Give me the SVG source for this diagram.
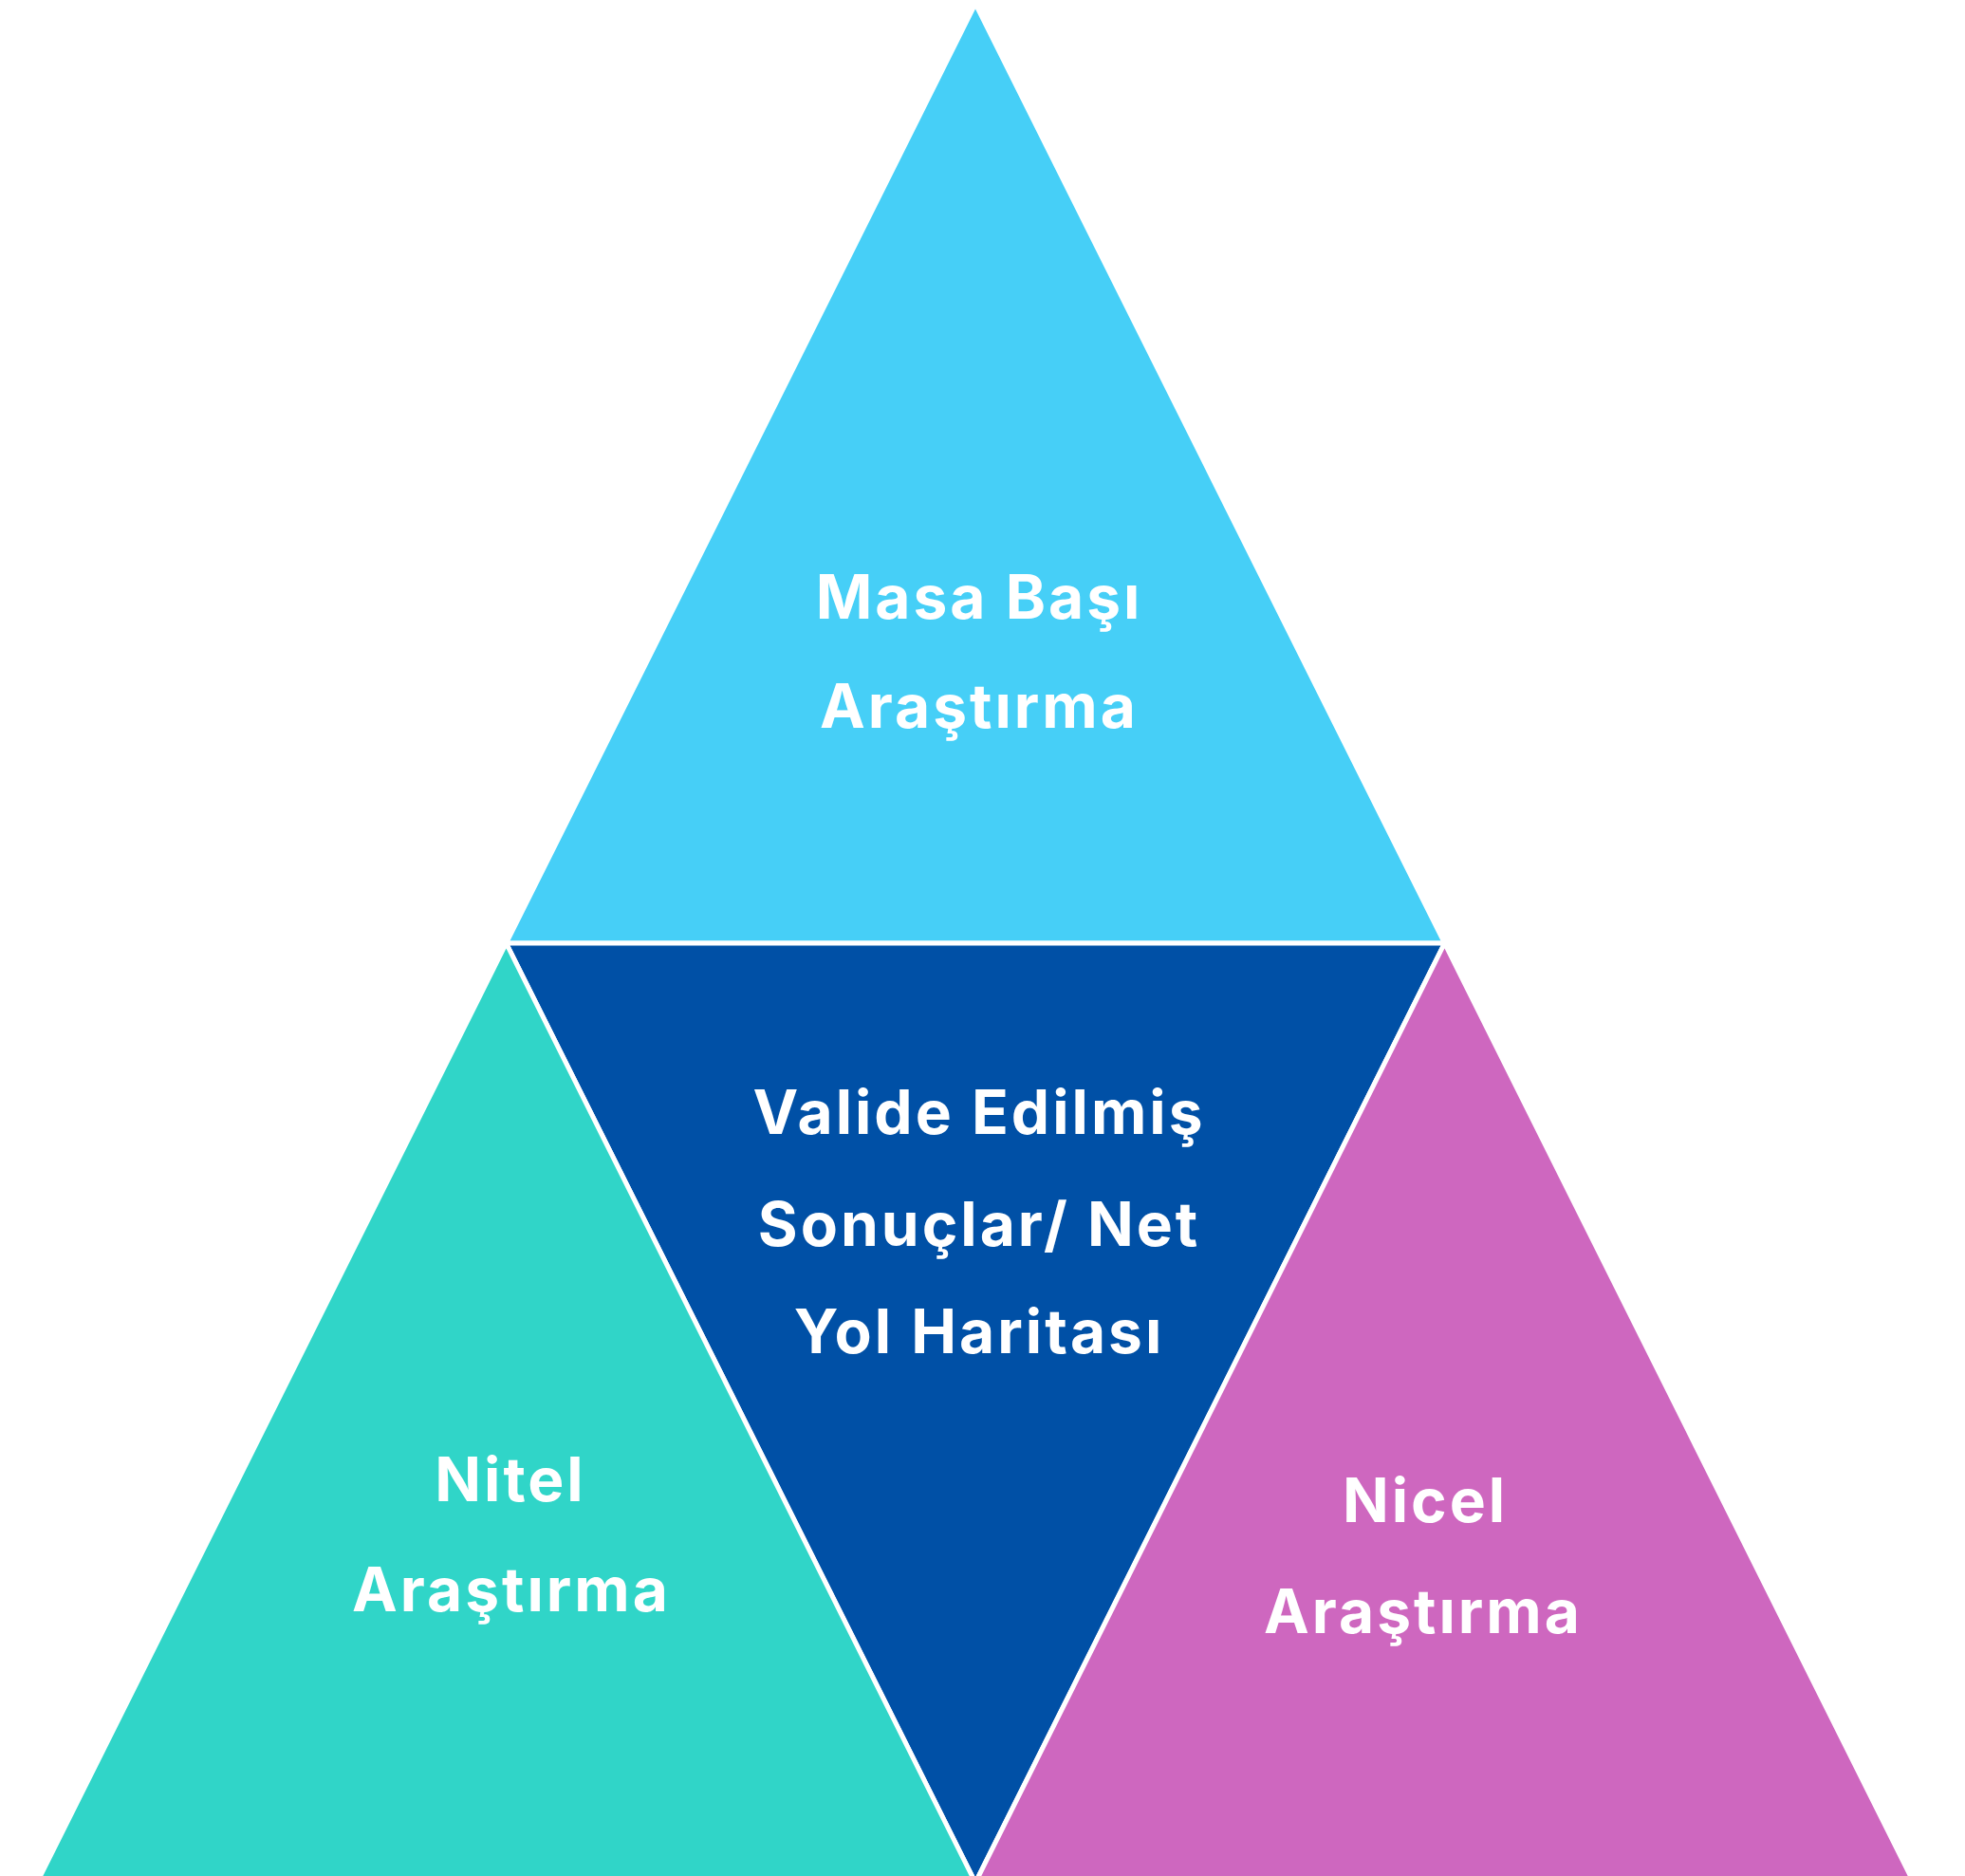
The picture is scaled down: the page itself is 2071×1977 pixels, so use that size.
<svg xmlns="http://www.w3.org/2000/svg" width="2071" height="1977" viewBox="0 0 2071 1977">
<style>
.tri{stroke:#ffffff;stroke-width:5;stroke-linejoin:miter}
.lbl{font-family:Inter,"Open Sans","Liberation Sans",sans-serif;font-weight:700;font-size:64px;letter-spacing:3px;fill:#ffffff;text-anchor:middle}
</style>
<rect width="2071" height="1977" fill="#ffffff"/>
<g id="top">
<polygon class="tri" fill="#46CFF7" points="1028,4 533.5,994 1522.5,994"/>
<text class="lbl" x="1032" y="652">Masa Başı</text>
<text class="lbl" x="1032" y="767">Araştırma</text>
</g>
<g id="center">
<polygon class="tri" fill="#0050A6" points="533.5,994 1522.5,994 1028,1984"/>
<text class="lbl" x="1032" y="1195">Valide Edilmiş</text>
<text class="lbl" x="1032" y="1313">Sonuçlar/ Net</text>
<text class="lbl" x="1032" y="1426">Yol Haritası</text>
</g>
<g id="left">
<polygon class="tri" fill="#30D5C8" points="533.5,994 39,1984 1028,1984"/>
<text class="lbl" x="538" y="1582">Nitel</text>
<text class="lbl" x="539" y="1698">Araştırma</text>
</g>
<g id="right">
<polygon class="tri" fill="#CE67BF" points="1522.5,994 1028,1984 2017,1984"/>
<text class="lbl" x="1502" y="1604">Nicel</text>
<text class="lbl" x="1500" y="1721">Araştırma</text>
</g>
<g id="connectors"/>
</svg>
